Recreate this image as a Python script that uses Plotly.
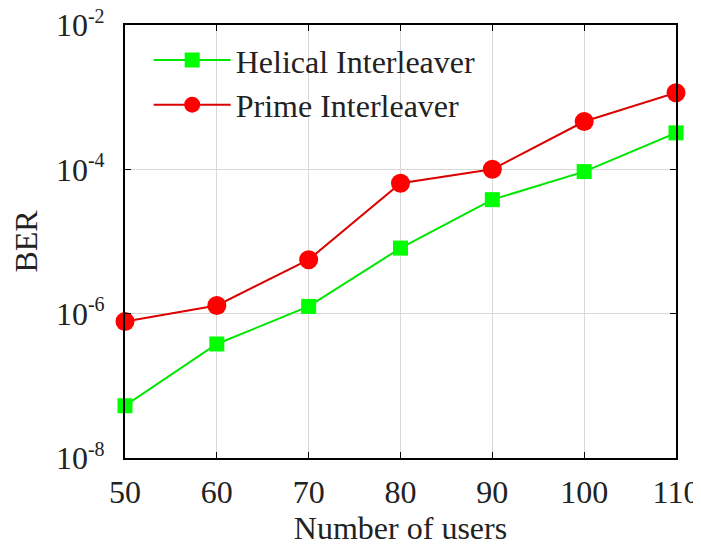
import plotly.graph_objects as go

users = [50, 60, 70, 80, 90, 100, 110]
helical_ber = [5.3e-8, 3.8e-7, 1.26e-6, 8.1e-6, 3.8e-5, 9.3e-5, 3.2e-4]
prime_ber = [7.8e-7, 1.3e-6, 5.6e-6, 6.4e-5, 1.0e-4, 4.6e-4, 1.15e-3]
ber_ticks = [1e-8, 1e-6, 1e-4, 1e-2]
ber_exponents = ["-8", "-6", "-4", "-2"]

FONT = "Liberation Serif, Times New Roman, serif"
FS = 32

fig = go.Figure()
fig.add_trace(go.Scatter(
    x=users, y=helical_ber, name="Helical Interleaver", mode="lines+markers",
    line=dict(color="#00e600", width=2),
    marker=dict(symbol="square", size=15, color="#00ff00", line=dict(width=0)),
    cliponaxis=False))
fig.add_trace(go.Scatter(
    x=users, y=prime_ber, name="Prime Interleaver", mode="lines+markers",
    line=dict(color="#dd0000", width=2),
    marker=dict(symbol="circle", size=19, color="#ff0000", line=dict(width=0)),
    cliponaxis=False))

fig.update_layout(
    width=693, height=538,
    margin=dict(l=117, r=25, t=17, b=88),
    paper_bgcolor="white", plot_bgcolor="white",
    font=dict(family=FONT, size=FS, color="#222"),
    showlegend=True,
    legend=dict(x=0.043, y=0.982, xanchor="left", yanchor="top",
                bgcolor="rgba(255,255,255,0)", borderwidth=0,
                font=dict(family=FONT, size=FS, color="#222"),
                itemwidth=77, tracegroupgap=0),
)
fig.update_xaxes(
    range=[50, 110], tickvals=users, ticktext=[str(u) for u in users],
    showgrid=True, gridcolor="#d8d8d8", gridwidth=1,
    showline=True, linecolor="black", linewidth=2, mirror="ticks",
    ticks="inside", ticklen=6, tickcolor="black",
    ticklabelstandoff=5,
    title=dict(text="Number of users", font=dict(family=FONT, size=FS), standoff=10),
    zeroline=False, automargin=False, ticklabeloverflow="allow",
)
fig.update_yaxes(
    type="log", range=[-8, -2], tickvals=ber_ticks,
    ticktext=["10<sup><span style='font-size:20px'>%s</span></sup>" % e for e in ber_exponents],
    showgrid=True, gridcolor="#d8d8d8", gridwidth=1,
    showline=True, linecolor="black", linewidth=2, mirror="ticks",
    ticks="inside", ticklen=6, tickcolor="black",
    ticklabelstandoff=12,
    title=dict(text="BER", font=dict(family=FONT, size=FS), standoff=10),
    zeroline=False, automargin=False, ticklabeloverflow="allow",
)
fig.write_html("out.html")
